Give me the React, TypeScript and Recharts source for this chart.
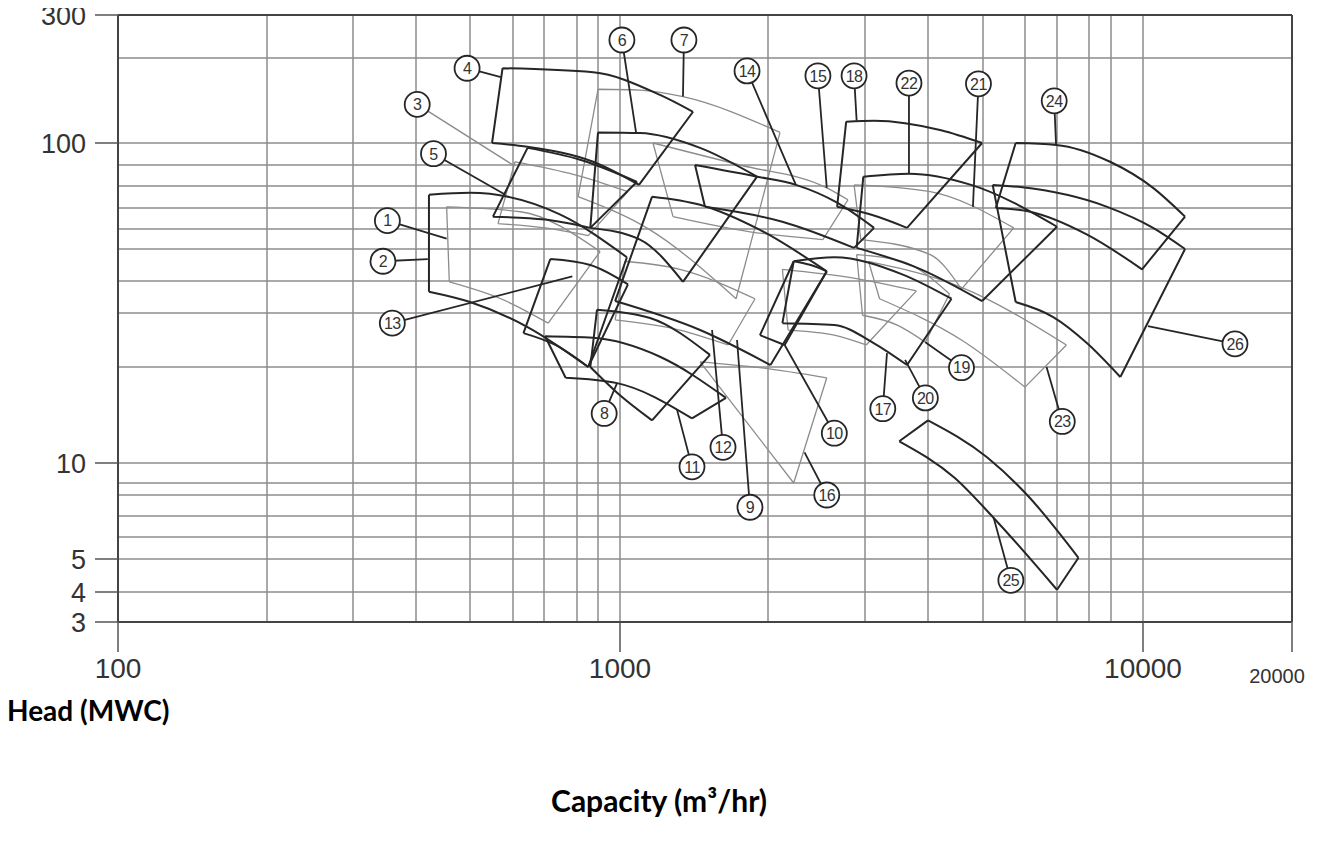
import React from 'react';
import { ComposedChart, Line, XAxis, YAxis, CartesianGrid, ReferenceLine } from 'recharts';

type Pt = [number, number]; // [capacity m3/hr, head m]
type Region = { top: Pt[]; bottom: Pt[] };

// gridlines of the printed log-log chart
const capacityGrid = [100, 200, 300, 400, 500, 600, 700, 800, 900, 1000, 2000, 3000, 4000, 5000, 6000, 7000, 8000, 9000, 10000, 20000];
const capacityLabels = [100, 1000, 10000, 20000];
const headGrid = [3, 4, 5, 6, 7, 8, 9, 10, 20, 30, 40, 50, 60, 70, 80, 90, 100, 200, 300];
const headLabels = [3, 4, 5, 10, 100, 300];

// the printed grid is not evenly logarithmic, so the axes are calibrated on each gridline
const capacityGridAt = [0, 149, 235, 298, 352, 395, 426, 459, 480, 502, 650, 747, 810, 865, 907, 939, 971, 993, 1025, 1174];
const headGridAt = [0, 30, 63, 85, 106, 127, 139, 159, 255, 309, 341, 373, 393, 414, 436, 457, 479, 564, 607];

// pump ranges: top = largest impeller curve, bottom = smallest impeller curve
const pump1: Region = { top: [[454, 70.5], [623, 68.1], [909, 49.1]], bottom: [[459, 39.7], [570, 34.1], [712, 27.8]] };
const pump2: Region = { top: [[422, 75.9], [500, 76.8], [748, 66.7], [1033, 47.2]], bottom: [[422, 36.3], [500, 33.1], [645, 27.0], [852, 20]] };
const pump3: Region = { top: [[606, 91.4], [794, 85.2], [1038, 77.3]], bottom: [[563, 62.4], [703, 60.5], [852, 56.5]] };
const pump4: Region = { top: [[574, 184], [876, 178], [1206, 148], [1408, 129]], bottom: [[549, 100], [645, 98.2], [876, 91.4], [1093, 80.5]] };
const pump5: Region = { top: [[645, 97.7], [814, 92.3], [1083, 81.9]], bottom: [[551, 65.7], [703, 64.3], [862, 60.5]] };
const pump6: Region = { top: [[900, 109], [1098, 108.5], [1455, 97.7], [1900, 84.3]], bottom: [[862, 60.5], [1098, 54.5], [1343, 39.7]] };
const pump7: Region = { top: [[900, 155], [1098, 154], [1343, 146], [2103, 109]], bottom: [[805, 75], [1151, 59.5], [1722, 34.1]] };
const pump8: Region = { top: [[703, 25.2], [876, 24.9], [1206, 21.6], [1643, 16.0]], bottom: [[764, 18.5], [986, 17.8], [1401, 13.8]] };
const pump9: Region = { top: [[1162, 75], [1455, 71.4], [1926, 59.5], [2557, 42.8]], bottom: [[977, 33.4], [1455, 26.4], [2021, 20.3]] };
const pump10: Region = { top: [[2227, 45.9], [2392, 44.7], [2557, 42.8]], bottom: [[1926, 25.4], [2144, 23.6]] };
const pump11: Region = { top: [[895, 30.9], [1151, 28.9], [1524, 21.9]], bottom: [[862, 20], [1000, 16.3], [1162, 13.6]] };
const pump12: Region = { top: [[1024, 45.9], [1324, 43.4], [1882, 34.1]], bottom: [[977, 28.5], [1324, 26.4], [1659, 23.6]] };
const pump13: Region = { top: [[718, 46.6], [862, 44.7], [1038, 38.8]], bottom: [[632, 25.8], [733, 23.6], [852, 20]] };
const pump14: Region = { top: [[1421, 90], [1900, 84.3], [2247, 80.5], [2670, 72.3], [3127, 60.5]], bottom: [[1489, 70.5], [2124, 63.3], [2866, 50.5]] };
const pump15: Region = { top: [[1167, 100], [1754, 90], [2557, 79.1], [2794, 73.6]], bottom: [[1282, 65.7], [1838, 58.5], [2515, 54.5]] };
const pump16: Region = { top: [[1455, 20.8], [1926, 19.9], [2557, 18.5]], bottom: [[2227, 9]] };
const pump17: Region = { top: [[2227, 45.9], [2639, 47.2], [3556, 41.9], [4400, 34.1]], bottom: [[2124, 27.8], [2639, 27.4], [3127, 23.9], [3635, 20.3]] };
const pump18: Region = { top: [[2773, 119], [3127, 120], [4218, 111], [4982, 100]], bottom: [[2670, 70.5], [3079, 66.7], [3635, 60.5]] };
const pump19: Region = { top: [[2897, 48.1], [3556, 45.9], [4364, 35.6]], bottom: [[2969, 29.5], [3476, 27.4], [3952, 24.1]] };
const pump20: Region = { top: [[2124, 43.4], [2845, 40.9], [3794, 36.6]], bottom: [[2175, 26.4], [2639, 25.4], [3016, 23.6]] };
const pump21: Region = { top: [[2866, 80.5], [4036, 77.3], [5714, 60.5]], bottom: [[2948, 54.5], [4036, 48.1], [4582, 37.2]] };
const pump22: Region = { top: [[2979, 84.3], [3667, 85.7], [4764, 80.5], [7000, 61]], bottom: [[2897, 50.5], [3873, 43.4], [4982, 33.4]] };
const pump23: Region = { top: [[3048, 45.9], [4582, 37.8], [7281, 23.6]], bottom: [[3206, 34.1], [4582, 24.5], [6000, 17.3]] };
const pump24: Region = { top: [[5762, 100], [6969, 99.1], [8955, 91.4], [10480, 79.1], [12160, 65.7]], bottom: [[5286, 70], [6156, 68.1], [7938, 57], [9969, 43.4]] };
const pump25: Region = { top: [[4000, 13.6], [5095, 10.4], [6063, 8], [7656, 5.05]], bottom: [[3508, 11.7], [4455, 9.25], [5238, 6.9], [7000, 4.06]] };
const pump26: Region = { top: [[5214, 80.5], [5881, 79.5], [8818, 70.5], [10480, 60.5], [12160, 50]], bottom: [[5762, 33.1], [6875, 29.1], [7938, 23.9], [9281, 18.6]] };

const darkPumps = [pump2, pump4, pump5, pump6, pump8, pump9, pump10, pump11, pump13, pump14, pump17, pump18, pump22, pump24, pump25, pump26];
const grayPumps = [pump1, pump3, pump7, pump12, pump15, pump16, pump19, pump20, pump21, pump23];

// numbered bubbles: [number, bubble capacity, bubble head, leader end capacity, leader end head]
const tags: [number, number, number, number, number][] = [
  [1, 351, 63.8, 454, 55], [2, 344, 45.9, 420, 46.6], [3, 402, 137, 600, 90], [4, 494, 184, 570, 171],
  [5, 430, 95, 581, 75.9], [6, 1009, 237, 1078, 109], [7, 1349, 237, 1343, 146], [8, 927, 14.3, 986, 17.8],
  [9, 1838, 7.4, 1730, 24.5], [10, 2639, 12.4, 2144, 23.6], [11, 1401, 9.8, 1306, 14.7], [12, 1620, 11.2, 1539, 26.4],
  [13, 359, 27.8, 785, 41.3], [14, 1813, 180, 2247, 80.5], [15, 2464, 173, 2557, 79.1], [16, 2557, 8, 2330, 10.8],
  [17, 3254, 14.8, 3317, 22.2], [18, 2866, 173, 2897, 120], [19, 4582, 19.9, 3952, 24.1], [20, 3952, 16.0, 3603, 21.1],
  [21, 4909, 162, 4800, 70.5], [22, 3667, 163, 3667, 85.7], [23, 7156, 13.5, 6656, 20], [24, 6906, 141, 6969, 99.1],
  [25, 5643, 4.33, 5238, 6.9], [26, 15340, 23.8, 10230, 27.2],
];
const grayTags = [3];

const DARK = '#262626';
const GRAY = '#8c8c8c';
const FONT = 'Liberation Sans, Arial, sans-serif';

function toAxis(v: number, grid: number[], at: number[]) {
  const lv = Math.log10(v);
  for (let i = 0; i < grid.length - 1; i++) {
    const a = Math.log10(grid[i]);
    const b = Math.log10(grid[i + 1]);
    if (lv <= b || i === grid.length - 2) return at[i] + ((at[i + 1] - at[i]) * (lv - a)) / (b - a);
  }
  return 0;
}

const toPoint = ([q, h]: Pt) => ({ u: toAxis(q, capacityGrid, capacityGridAt), v: toAxis(h, headGrid, headGridAt) });

function outline(r: Region) {
  const strokes: Pt[][] = [
    r.top,
    [r.top[r.top.length - 1], r.bottom[r.bottom.length - 1]],
    r.bottom,
    [r.top[0], r.bottom[0]],
  ];
  const out: { u: number; v: number | null }[] = [];
  strokes.forEach((s) => {
    if (s.length < 2) return;
    s.forEach((p) => out.push(toPoint(p)));
    out.push({ u: out[out.length - 1].u, v: null });
  });
  return out;
}

function leaders(list: typeof tags) {
  const out: { u: number; v: number | null }[] = [];
  list.forEach(([, q, h, q2, h2]) => {
    out.push(toPoint([q, h]), toPoint([q2, h2]));
    out.push({ u: out[out.length - 1].u, v: null });
  });
  return out;
}

const bubbleData = tags.map(([n, q, h]) => ({ ...toPoint([q, h]), n }));

const CapTick = (props: any) => {
  const { x, y, payload } = props;
  const value = capacityGrid[capacityGridAt.indexOf(payload.value)];
  if (!capacityLabels.includes(value)) return <g />;
  const small = value === 20000;
  return (
    <g>
      <line x1={x} y1={y} x2={x} y2={y + 30} stroke="#555" strokeWidth={1.5} />
      <text x={small ? x - 15 : x} y={small ? y + 61 : y + 56} textAnchor="middle" fontSize={small ? 20 : 28} fill="#333" fontFamily={FONT}>
        {value}
      </text>
    </g>
  );
};

const HeadTick = (props: any) => {
  const { x, y, payload } = props;
  const value = headGrid[headGridAt.indexOf(payload.value)];
  if (!headLabels.includes(value)) return <g />;
  return (
    <g>
      <line x1={x - 23} y1={y} x2={x} y2={y} stroke="#555" strokeWidth={1.5} />
      <text x={x - 32} y={y + 10} textAnchor="end" fontSize={27} fill="#333" fontFamily={FONT}>
        {value}
      </text>
    </g>
  );
};

const Bubble = (props: any) => {
  const { cx, cy, payload } = props;
  if (cx == null || cy == null) return <g key={props.index} />;
  return (
    <g key={props.index}>
      <circle cx={cx} cy={cy} r={12.5} fill="#fff" stroke={DARK} strokeWidth={1.8} />
      <text x={cx} y={cy + 5.8} textAnchor="middle" fontSize={16} letterSpacing={-0.5} fill="#333" fontFamily={FONT}>
        {payload.n}
      </text>
    </g>
  );
};

export default function App() {
  return (
    <div style={{ position: 'relative', width: 1311, height: 847, marginTop: -8 }}>
      <ComposedChart width={1311} height={708} margin={{ top: 15, right: 27, bottom: 6, left: 0 }}>
        <CartesianGrid stroke="#8c8c8c" strokeWidth={1.5} />
        <XAxis
          type="number"
          dataKey="u"
          domain={[0, 1174]}
          allowDataOverflow
          ticks={capacityGridAt}
          interval={0}
          tick={<CapTick />}
          tickLine={false}
          tickSize={0}
          tickMargin={0}
          height={80}
          axisLine={{ stroke: '#444', strokeWidth: 2 }}
        />
        <YAxis
          type="number"
          dataKey="v"
          domain={[0, 607]}
          allowDataOverflow
          ticks={headGridAt}
          interval={0}
          tick={<HeadTick />}
          tickLine={false}
          tickSize={0}
          tickMargin={0}
          width={110}
          axisLine={{ stroke: '#444', strokeWidth: 2 }}
        />
        <ReferenceLine y={607} stroke="#444" strokeWidth={2} />
        <ReferenceLine x={1174} stroke="#444" strokeWidth={2} />
        {grayPumps.map((p, i) => (
          <Line key={'g' + i} data={outline(p)} dataKey="v" type="monotone" stroke={GRAY} strokeWidth={1.3} dot={false} activeDot={false} isAnimationActive={false} />
        ))}
        {darkPumps.map((p, i) => (
          <Line key={'d' + i} data={outline(p)} dataKey="v" type="monotone" stroke={DARK} strokeWidth={2} dot={false} activeDot={false} isAnimationActive={false} />
        ))}
        <Line data={leaders(tags.filter((t) => grayTags.includes(t[0])))} dataKey="v" type="linear" stroke={GRAY} strokeWidth={1.4} dot={false} activeDot={false} isAnimationActive={false} />
        <Line data={leaders(tags.filter((t) => !grayTags.includes(t[0])))} dataKey="v" type="linear" stroke={DARK} strokeWidth={1.8} dot={false} activeDot={false} isAnimationActive={false} />
        <Line data={bubbleData} dataKey="v" stroke="none" dot={(p: any) => <Bubble key={p.index} {...p} />} activeDot={false} isAnimationActive={false} />
      </ComposedChart>
      <div style={{ position: 'absolute', left: -1, top: 696, fontFamily: 'Lato, sans-serif', fontWeight: 700, fontSize: 28, lineHeight: 1, color: '#000', whiteSpace: 'nowrap' }}>
        Head (MWC)
      </div>
      <div style={{ position: 'absolute', left: 0, width: 1302, top: 785, textAlign: 'center', fontFamily: 'Lato, sans-serif', fontWeight: 700, fontSize: 30, lineHeight: 1, color: '#000', whiteSpace: 'nowrap' }}>
        Capacity (m³/hr)
      </div>
    </div>
  );
}
